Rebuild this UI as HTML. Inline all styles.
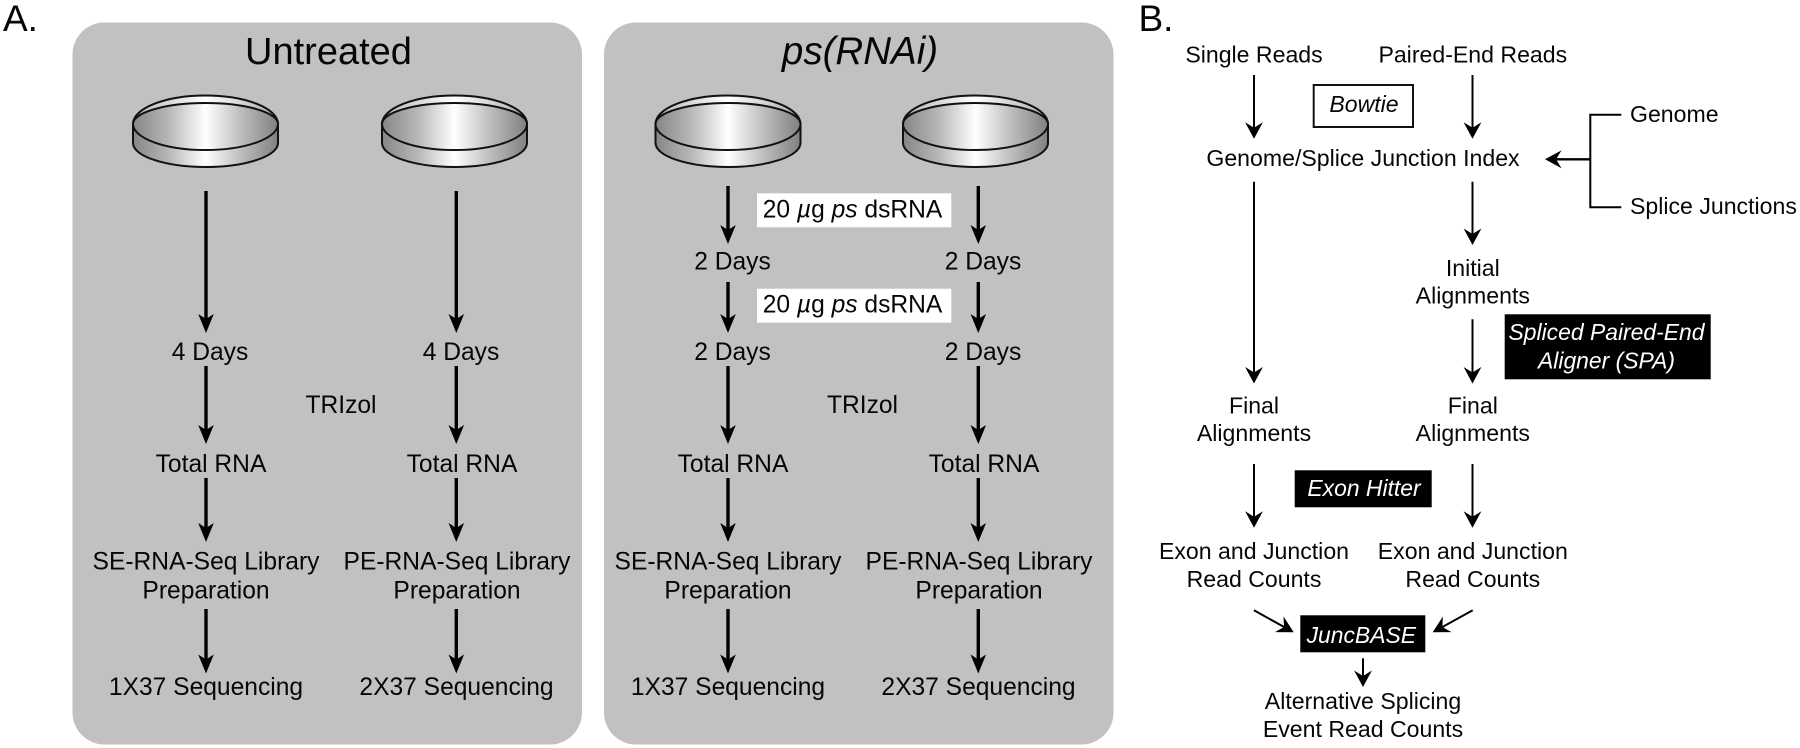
<!DOCTYPE html>
<html>
<head>
<meta charset="utf-8">
<style>
html,body{margin:0;padding:0;background:#fff;width:1800px;height:748px;overflow:hidden}
svg{display:block}
text{font-family:"Liberation Sans",sans-serif;fill:#060606}
.a{font-size:24.6px;text-anchor:middle}
.b{font-size:23.1px;text-anchor:middle}
.w{fill:#fff;font-style:italic;font-size:22.9px}
.i{font-style:italic}
</style>
</head>
<body>
<svg width="1800" height="748" viewBox="0 0 1800 748" xmlns="http://www.w3.org/2000/svg">
<defs>
<linearGradient id="g" x1="0" x2="1" y1="0" y2="0">
<stop offset="0" stop-color="#868686"/><stop offset=".25" stop-color="#b8b8b8"/><stop offset=".5" stop-color="#fff"/><stop offset=".72" stop-color="#c4c4c4"/><stop offset="1" stop-color="#808080"/>
</linearGradient>
<linearGradient id="r" x1="0" x2="1" y1="0" y2="0">
<stop offset="0" stop-color="#b5b5b5"/><stop offset=".5" stop-color="#fff"/><stop offset="1" stop-color="#aaa"/>
</linearGradient>
<g id="dish" stroke="#111" stroke-width="2">
<path d="M-72.5,-2 L-72.5,17 A72.5,24 0 0 0 72.5,17 L72.5,-2 Z" fill="url(#g)"/>
<path d="M-72.5,-2 A72.5,28.5 0 0 1 72.5,-2 Z" fill="url(#r)"/>
<path d="M-72.5,-2 A72.5,21 0 0 1 72.5,-2 A72.5,26 0 0 1 -72.5,-2 Z" fill="url(#g)"/>
</g>
<path id="h" d="M0,0 L-7.8,-19 L0,-14 L7.8,-19 Z" fill="#000"/>
<path id="k" d="M0,0 L-8.9,-16.5 L0,-11 L8.9,-16.5 Z" fill="#000"/>
</defs>

<rect width="1800" height="748" fill="#fff"/>
<text x="3" y="31" font-size="37">A.</text>
<text x="1138.5" y="31" font-size="37">B.</text>

<rect x="72.5" y="22.5" width="509.5" height="722" rx="32" fill="#c1c1c1"/>
<rect x="604" y="22.5" width="509.5" height="722" rx="32" fill="#c1c1c1"/>

<text x="328.5" y="64" font-size="38" text-anchor="middle">Untreated</text>
<text x="860" y="64" font-size="38.5" text-anchor="middle" class="i">ps(RNAi)</text>

<use href="#dish" x="205.5" y="126"/>
<use href="#dish" x="454.5" y="126"/>
<use href="#dish" x="728" y="126"/>
<use href="#dish" x="975.5" y="126"/>

<g stroke="#000" stroke-width="3.4" fill="none">
<path d="M206,191V320M206,366V430M206,478V528M206,609V660"/>
<path d="M456.3,191V320M456.3,366V430M456.3,478V528M456.3,609V660"/>
<path d="M728,186V230M728,282V320M728,366V430M728,478V528M728,609V660"/>
<path d="M978.3,186V230M978.3,282V320M978.3,366V430M978.3,478V528M978.3,609V660"/>
</g>
<use href="#h" x="206" y="333"/><use href="#h" x="206" y="444"/><use href="#h" x="206" y="542"/><use href="#h" x="206" y="673.5"/>
<use href="#h" x="456.3" y="333"/><use href="#h" x="456.3" y="444"/><use href="#h" x="456.3" y="542"/><use href="#h" x="456.3" y="673.5"/>
<use href="#h" x="728" y="244"/><use href="#h" x="728" y="333"/><use href="#h" x="728" y="444"/><use href="#h" x="728" y="542"/><use href="#h" x="728" y="673.5"/>
<use href="#h" x="978.3" y="244"/><use href="#h" x="978.3" y="333"/><use href="#h" x="978.3" y="444"/><use href="#h" x="978.3" y="542"/><use href="#h" x="978.3" y="673.5"/>

<g class="a">
<text class="a" x="210" y="360">4 Days</text>
<text class="a" x="461" y="360">4 Days</text>
<text class="a" x="341" y="413">TRIzol</text>
<text class="a" x="211" y="472">Total RNA</text>
<text class="a" x="462" y="472">Total RNA</text>
<text class="a" x="206" y="569.5">SE-RNA-Seq Library</text>
<text class="a" x="206" y="598.5">Preparation</text>
<text class="a" x="457" y="569.5">PE-RNA-Seq Library</text>
<text class="a" x="457" y="598.5">Preparation</text>
<text class="a" x="206" y="695">1X37 Sequencing</text>
<text class="a" x="456.5" y="695">2X37 Sequencing</text>

<text class="a" x="732.5" y="269.5">2 Days</text>
<text class="a" x="983" y="269.5">2 Days</text>
<text class="a" x="732.5" y="360">2 Days</text>
<text class="a" x="983" y="360">2 Days</text>
<text class="a" x="862.5" y="413">TRIzol</text>
<text class="a" x="733" y="472">Total RNA</text>
<text class="a" x="984" y="472">Total RNA</text>
<text class="a" x="728" y="569.5">SE-RNA-Seq Library</text>
<text class="a" x="728" y="598.5">Preparation</text>
<text class="a" x="979" y="569.5">PE-RNA-Seq Library</text>
<text class="a" x="979" y="598.5">Preparation</text>
<text class="a" x="728" y="695">1X37 Sequencing</text>
<text class="a" x="978.5" y="695">2X37 Sequencing</text>
</g>

<rect x="757" y="193.3" width="194.3" height="34" fill="#fff"/>
<rect x="757" y="288.7" width="194.3" height="34" fill="#fff"/>
<text class="a" x="852.5" y="217.5">20 <tspan class="i">µ</tspan>g <tspan class="i">ps</tspan> dsRNA</text>
<text class="a" x="852.5" y="312.5">20 <tspan class="i">µ</tspan>g <tspan class="i">ps</tspan> dsRNA</text>

<g stroke="#000" stroke-width="2" fill="none">
<path d="M1254,75V130M1472.5,75V130M1254,181.7V375M1472.5,181.7V237M1472.5,319.3V375M1254,464V519M1472.5,464V519"/>
<path d="M1363,658.3V679"/>
<path d="M1621.3,114.7H1590.3V207.3H1621.3"/>
<path d="M1590.3,159.3H1555" stroke-width="2.4"/>
<path d="M1254,610.3L1285,627.5M1472.7,610.3L1441.5,627.5"/>
</g>
<use href="#k" x="1254" y="138.8"/><use href="#k" x="1472.5" y="138.8"/>
<use href="#k" x="1472.5" y="245"/>
<use href="#k" x="1254" y="383.5"/><use href="#k" x="1472.5" y="383.5"/>
<use href="#k" x="1254" y="527.7"/><use href="#k" x="1472.5" y="527.7"/>
<use href="#k" x="1363" y="687"/>
<use href="#k" transform="translate(1545,159.3) rotate(90)"/>
<use href="#k" transform="translate(1293.7,632.3) rotate(-61.2)"/>
<use href="#k" transform="translate(1432.7,632.3) rotate(61.2)"/>

<rect x="1313.7" y="85" width="99.3" height="42" fill="#fff" stroke="#111" stroke-width="2"/>
<rect x="1504.7" y="314.3" width="206" height="65" fill="#000"/>
<rect x="1294.7" y="470.3" width="137" height="37" fill="#000"/>
<rect x="1300.3" y="615.3" width="125" height="37" fill="#000"/>

<text class="b" x="1254" y="62.5">Single Reads</text>
<text class="b" x="1472.8" y="62.5">Paired-End Reads</text>
<text class="b i" x="1364" y="112">Bowtie</text>
<text class="b" x="1363" y="166">Genome/Splice Junction Index</text>
<text x="1630" y="122" font-size="23.1">Genome</text>
<text x="1630" y="214" font-size="23.1">Splice Junctions</text>
<text class="b" x="1472.8" y="276">Initial</text>
<text class="b" x="1472.8" y="303.5">Alignments</text>
<text class="b w" x="1606.5" y="340">Spliced Paired-End</text>
<text class="b w" x="1606.5" y="368.5">Aligner (SPA)</text>
<text class="b" x="1254" y="413.5">Final</text>
<text class="b" x="1254" y="441">Alignments</text>
<text class="b" x="1472.8" y="413.5">Final</text>
<text class="b" x="1472.8" y="441">Alignments</text>
<text class="b w" x="1364" y="496">Exon Hitter</text>
<text class="b" x="1254" y="559">Exon and Junction</text>
<text class="b" x="1254" y="587">Read Counts</text>
<text class="b" x="1472.8" y="559">Exon and Junction</text>
<text class="b" x="1472.8" y="587">Read Counts</text>
<text class="b w" x="1361.3" y="643">JuncBASE</text>
<text class="b" x="1363" y="709">Alternative Splicing</text>
<text class="b" x="1363" y="737">Event Read Counts</text>
</svg>
</body>
</html>
